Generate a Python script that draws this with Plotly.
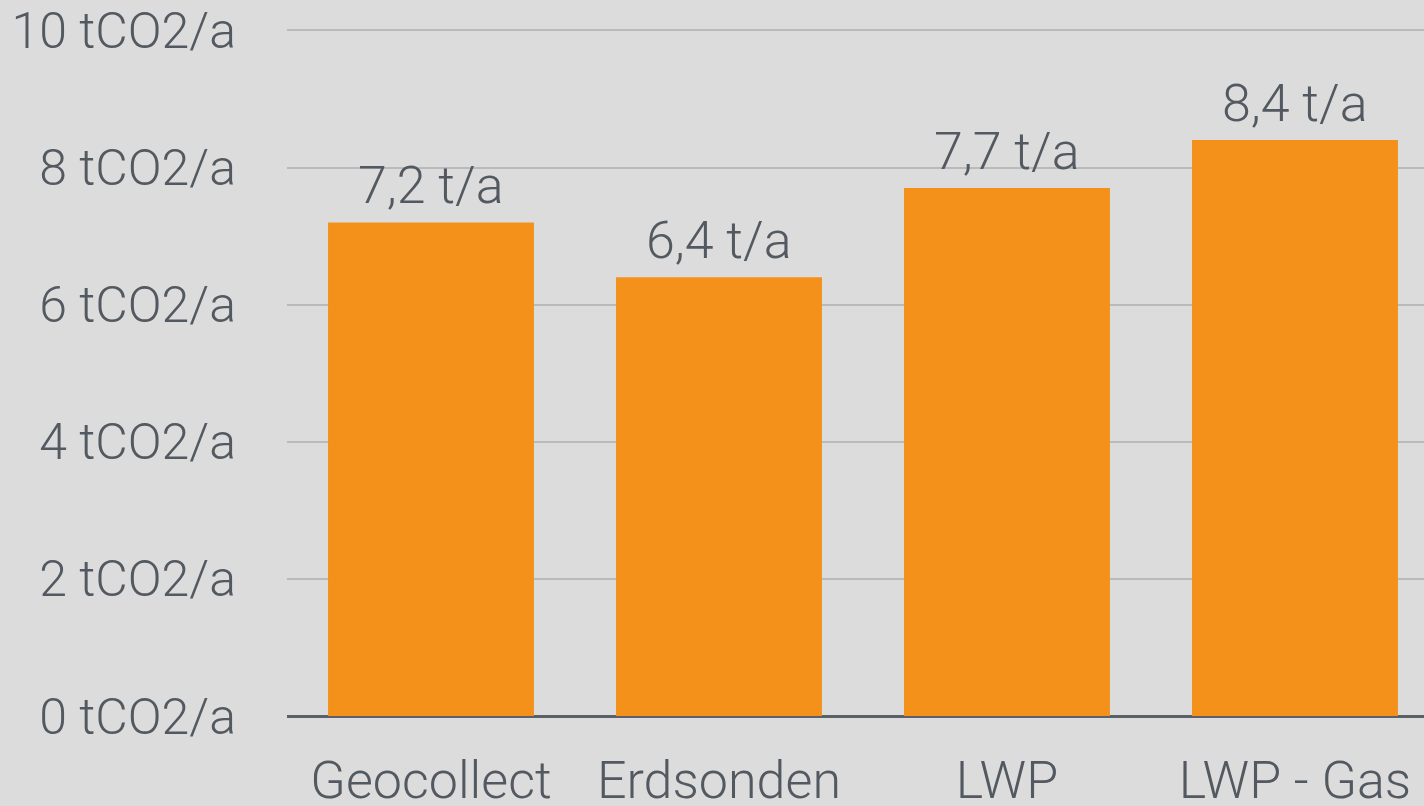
import plotly.graph_objects as go

categories = ["Geocollect", "Erdsonden", "LWP", "LWP - Gas"]
values = [7.2, 6.4, 7.7, 8.4]
value_labels = ["7,2 t/a", "6,4 t/a", "7,7 t/a", "8,4 t/a"]
tick_values = [0, 2, 4, 6, 8, 10]
tick_labels = ["0 tCO2/a", "2 tCO2/a", "4 tCO2/a", "6 tCO2/a", "8 tCO2/a", "10 tCO2/a"]

BG = "#dcdcdc"
ORANGE = "#f3911b"
TEXT = "#535960"
FONT = "Roboto"

fig = go.Figure()
fig.add_trace(go.Bar(
    x=categories, y=values, marker_color=ORANGE, width=0.715,
    marker_line_width=0, hoverinfo="skip",
))

for c, v, lab in zip(categories, values, value_labels):
    fig.add_annotation(x=c, y=v, text=lab, showarrow=False, yanchor="bottom",
                       yshift=4, font=dict(family=FONT, size=52, color=TEXT, weight=300))

fig.update_layout(
    width=1424, height=806,
    paper_bgcolor=BG, plot_bgcolor=BG,
    margin=dict(l=287, r=0, t=27, b=90, autoexpand=False),
    showlegend=False,
    font=dict(family=FONT, size=50, color=TEXT, weight=300),
)
fig.update_xaxes(
    range=[-0.5, 3.448], showgrid=False, showline=False, ticks="",
    tickfont=dict(family=FONT, size=52, color=TEXT, weight=300),
    ticklabelstandoff=29, automargin=False,
)
fig.update_yaxes(
    range=[0, 10.05], tickvals=tick_values, ticktext=tick_labels,
    showgrid=True, gridcolor="#bababa", gridwidth=2,
    zeroline=True, zerolinecolor="#5b6067", zerolinewidth=3,
    ticks="", ticklabelstandoff=50, ticklabeloverflow="allow",
    tickfont=dict(family=FONT, size=50, color=TEXT, weight=300),
    automargin=False,
)

fig.write_html(
    "out.html",
    config={"displayModeBar": False},
    post_script="document.body.style.margin='0';document.body.style.overflow='hidden';",
)
